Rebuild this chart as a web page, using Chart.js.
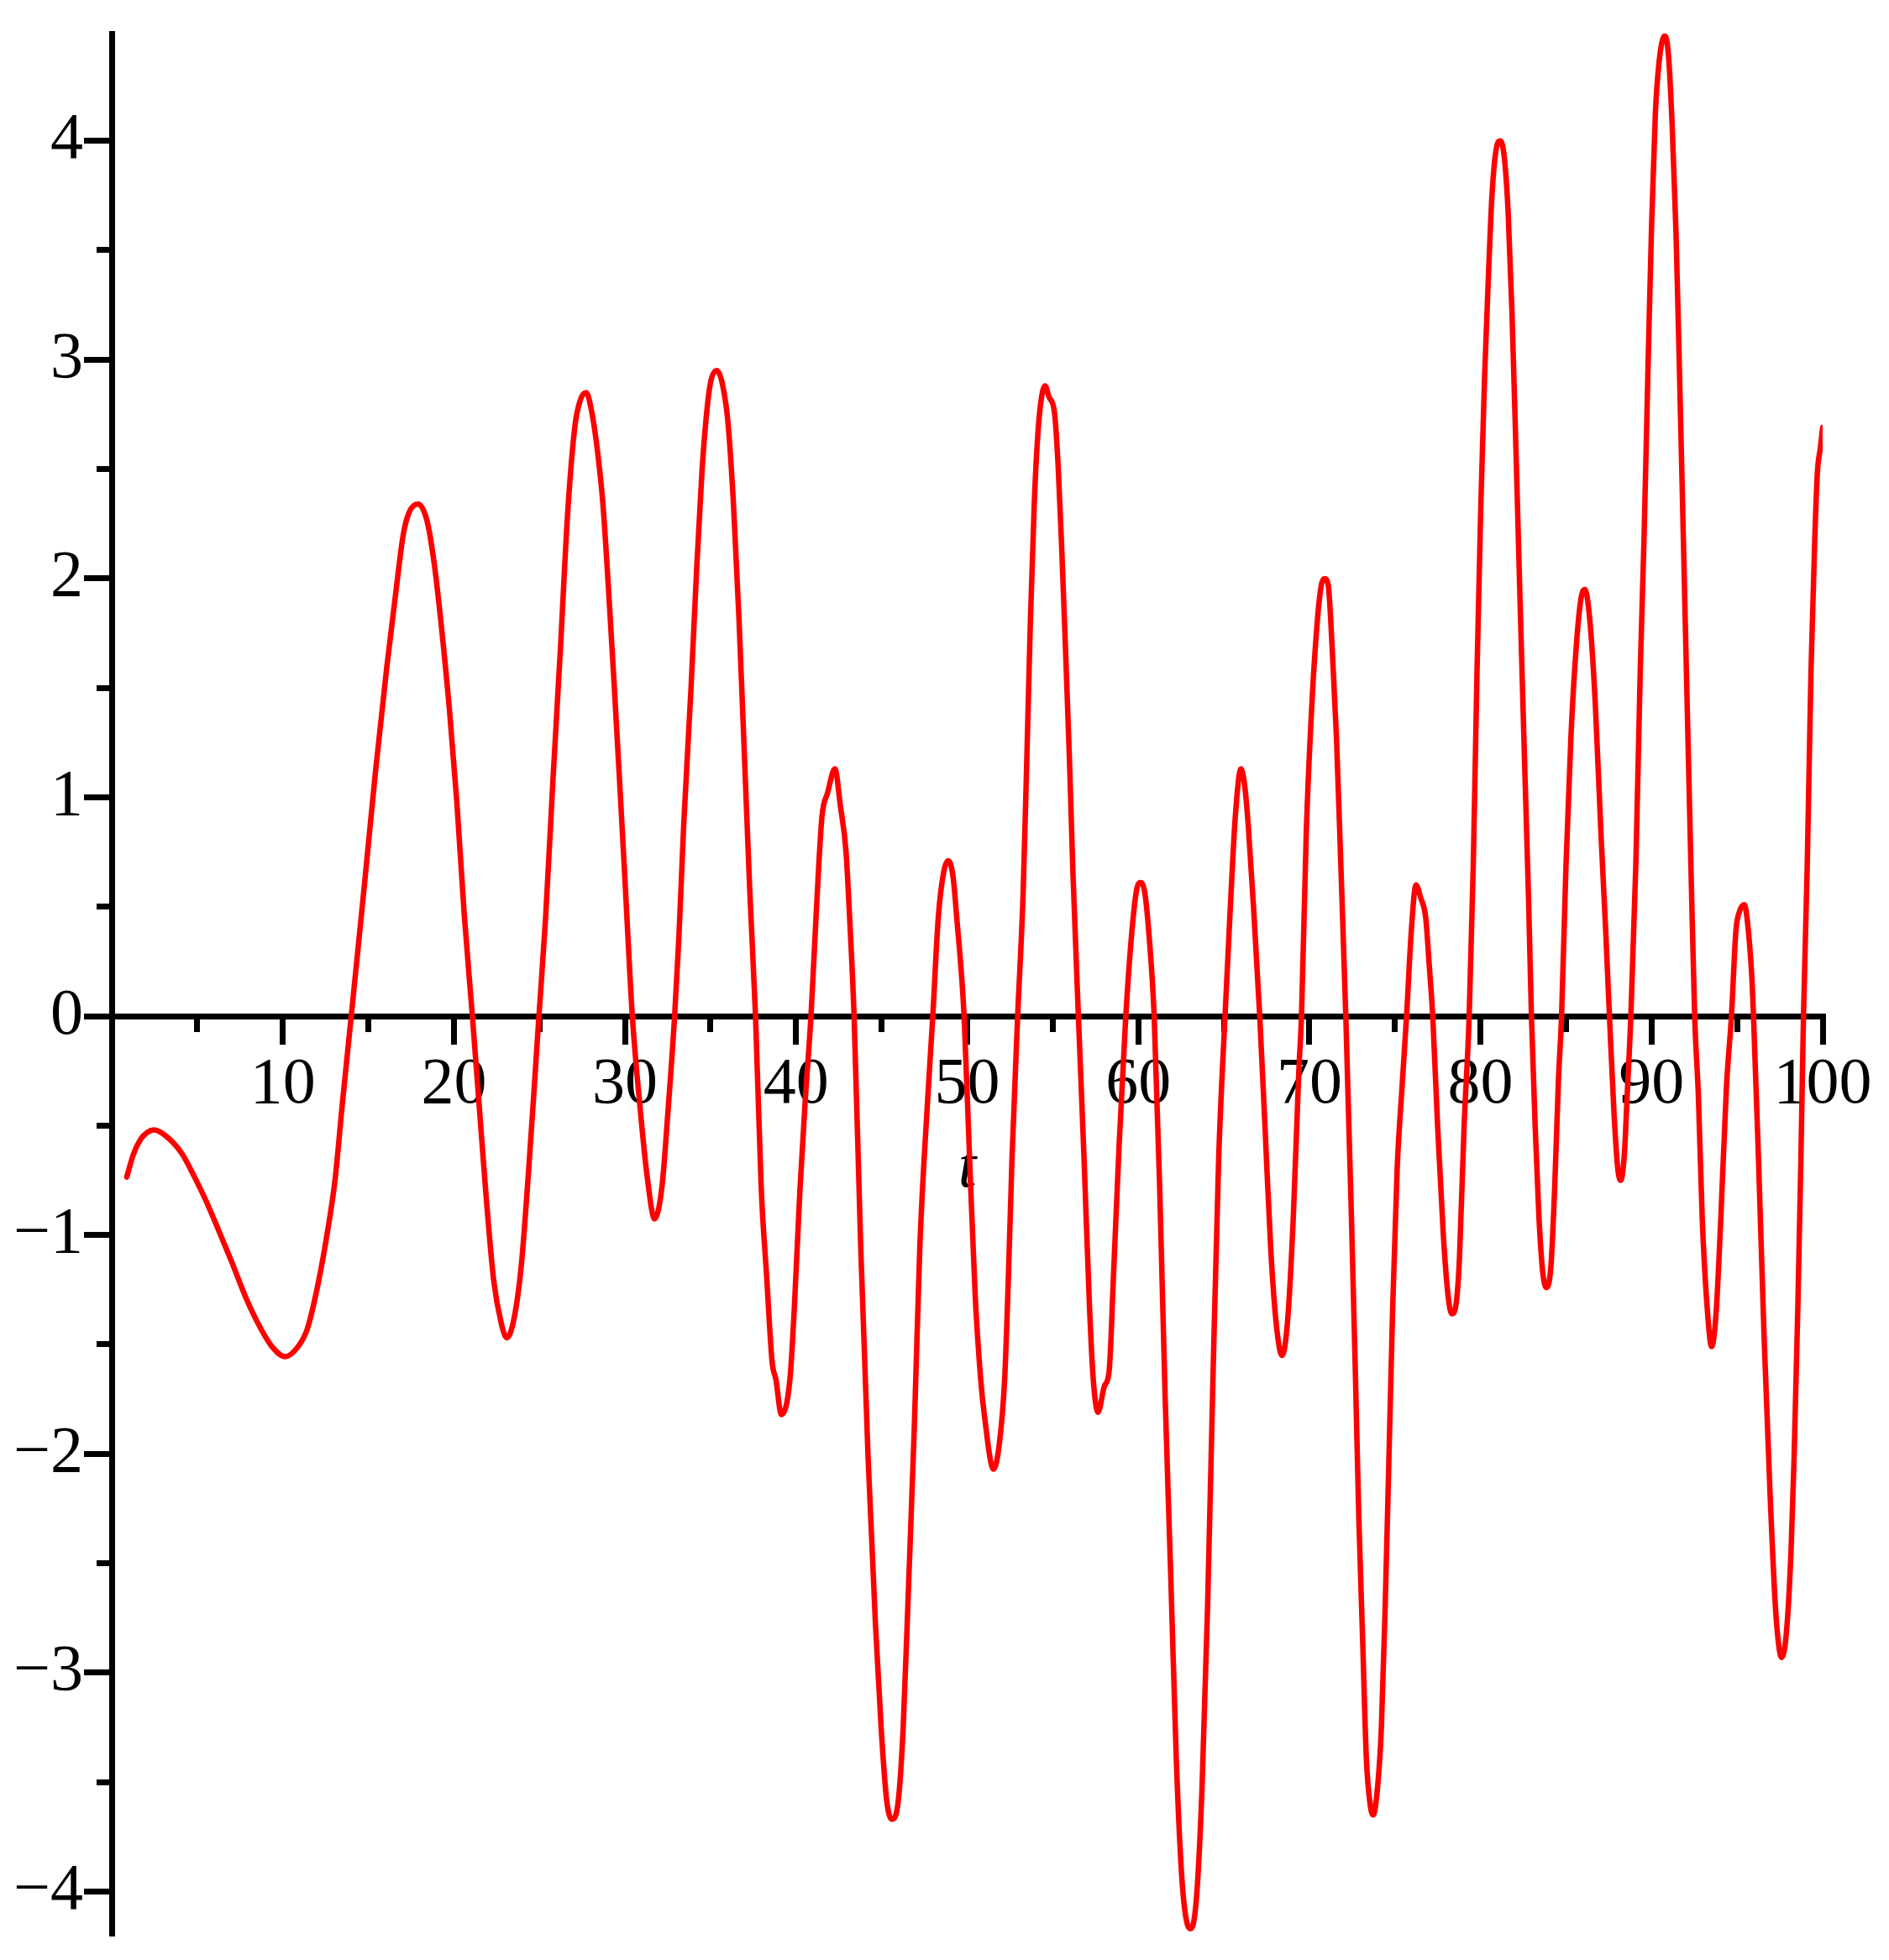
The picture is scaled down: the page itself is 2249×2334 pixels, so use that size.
<!DOCTYPE html>
<html>
<head>
<meta charset="utf-8">
<script src="https://cdn.jsdelivr.net/npm/chart.js@4/dist/chart.umd.min.js"></script>
<style>
html,body{margin:0;padding:0;background:#ffffff;}
#wrap{width:2249px;height:2334px;position:relative;}
canvas{display:block;}
</style>
</head>
<body>
<div id="wrap"><canvas id="c" width="2249" height="2334"></canvas></div>
<script>
// sample times t, grouped by half-wave
const tSamples = [
  0.88,1.27,1.71,2.1,2.46,3.11,4.08,4.84,5.49,6.13,7.0,7.86,8.73,9.37,10.13,10.89,11.43,12.07,12.61,13.05,13.48,14.0,
  14.77,15.42,16.07,16.61,17.04,17.37,17.9,18.44,18.88,19.31,19.74,20.17,20.6,21.08,
  21.47,21.9,22.33,22.76,23.09,23.52,23.95,24.38,24.7,24.97,
  25.36,25.79,26.22,26.65,27.08,27.41,27.73,28.06,28.38,28.71,29.03,29.35,29.68,30.0,30.43,
  30.86,31.3,31.73,32.16,32.48,32.9,
  33.15,33.43,33.86,34.18,34.5,34.83,35.04,35.37,35.69,36.01,36.34,36.66,36.98,37.3,37.63,
  37.96,38.28,38.6,38.82,39.14,39.64,39.9,40.22,40.54,40.87,
  41.19,41.51,41.84,42.27,42.59,42.92,43.13,43.39,
  43.78,44.21,44.64,44.97,45.29,45.61,45.98,46.26,46.58,46.91,47.23,47.66,47.99,
  48.31,48.63,48.89,49.17,49.39,49.82,
  50.14,50.47,50.79,51.0,51.54,51.87,52.19,52.41,52.62,52.95,
  53.27,53.49,53.7,53.92,54.13,54.35,54.56,54.78,55.1,55.32,55.53,55.75,55.97,56.18,56.5,
  56.83,57.15,57.37,57.65,58.02,58.3,58.55,58.88,59.27,
  59.63,59.91,60.13,60.39,60.65,60.93,
  61.25,61.57,61.9,62.22,62.54,62.87,63.08,63.41,63.73,64.05,64.38,64.7,65.07,
  65.35,65.67,66.0,66.21,66.43,66.75,67.1,
  67.41,67.74,68.07,68.4,68.73,69.06,69.39,69.54,
  69.82,70.15,70.48,70.7,70.88,71.1,71.36,71.58,71.84,72.13,
  72.46,72.68,72.89,73.11,73.33,73.55,73.73,73.99,74.21,74.43,74.65,74.87,75.13,75.42,75.68,
  75.96,76.23,76.51,76.8,77.0,77.21,
  77.5,77.83,78.11,78.33,78.6,78.77,79.04,79.34,
  79.58,79.8,80.02,80.24,80.46,80.68,80.94,81.16,81.4,81.62,81.84,82.06,82.32,82.59,82.81,82.98,
  83.2,83.42,83.64,83.86,84.12,84.34,84.56,84.74,
  85.0,85.29,85.61,85.88,86.1,86.38,86.71,87.04,87.32,87.54,
  87.81,88.03,88.2,88.42,88.57,88.79,
  89.08,89.34,89.56,89.78,90.0,90.22,90.44,90.77,90.99,91.21,91.43,91.64,91.86,92.08,92.3,92.52,
  92.74,92.96,93.25,93.51,93.77,94.05,94.38,94.67,
  94.93,95.15,95.42,95.66,95.88,95.96,
  96.25,96.58,96.91,97.24,97.46,97.61,97.89,98.16,98.33,98.55,98.73,98.88,
  99.1,99.32,99.54,99.69,99.87,100
];
// series values, same grouping as tSamples
const ySamples = [
  -0.735,-0.63,-0.56,-0.53,-0.52,-0.544,-0.625,-0.735,-0.84,-0.956,-1.12,-1.29,-1.43,-1.51,-1.556,-1.51,-1.43,-1.22,-0.985,-0.75,-0.40,0,
  0.60,1.12,1.59,1.94,2.2,2.3,2.34,2.26,2.05,1.75,1.40,0.98,0.47,0,
  -0.40,-0.84,-1.21,-1.40,-1.47,-1.38,-1.13,-0.69,-0.32,0,
  0.45,1.08,1.67,2.30,2.70,2.82,2.85,2.76,2.59,2.34,1.96,1.54,1.08,0.62,0,
  -0.40,-0.735,-0.926,-0.78,-0.47,0,
  0.36,0.87,1.50,2.03,2.49,2.80,2.91,2.95,2.89,2.72,2.34,1.82,1.19,0.56,0,
  -0.78,-1.19,-1.58,-1.66,-1.82,-1.66,-1.33,-0.80,-0.38,0,
  0.49,0.91,1.02,1.13,0.96,0.75,0.45,0,
  -1.06,-2.02,-2.78,-3.25,-3.58,-3.67,-3.58,-3.25,-2.59,-1.88,-1.06,-0.42,0,
  0.45,0.66,0.71,0.64,0.45,0,
  -0.65,-1.28,-1.66,-1.82,-2.07,-1.96,-1.66,-1.19,-0.65,0,
  0.56,1.19,1.82,2.34,2.66,2.83,2.88,2.83,2.76,2.51,2.13,1.67,1.19,0.66,0,
  -0.65,-1.33,-1.66,-1.81,-1.69,-1.62,-1.19,-0.59,0,
  0.39,0.58,0.61,0.56,0.35,0,
  -0.78,-1.74,-2.56,-3.39,-3.93,-4.15,-4.17,-4.02,-3.52,-2.70,-1.61,-0.65,0,
  0.45,0.91,1.13,1.06,0.87,0.48,0,
  -0.51,-1.06,-1.41,-1.55,-1.39,-0.92,-0.24,0,
  0.84,1.43,1.82,1.97,2.0,1.97,1.64,1.28,0.69,0,
  -0.92,-1.6,-2.29,-2.84,-3.39,-3.6,-3.65,-3.52,-3.25,-2.7,-2.02,-1.33,-0.70,-0.32,0,
  0.39,0.6,0.54,0.45,0.24,0,
  -0.51,-1.0,-1.28,-1.36,-1.30,-1.11,-0.51,0,
  0.69,1.58,2.33,2.92,3.37,3.76,3.97,4.0,3.92,3.67,3.22,2.63,1.88,1.13,0.54,0,
  -0.51,-0.92,-1.17,-1.24,-1.14,-0.78,-0.29,0,
  0.69,1.28,1.70,1.91,1.95,1.82,1.43,0.84,0.39,0,
  -0.45,-0.70,-0.75,-0.62,-0.37,0,
  0.69,1.58,2.18,2.92,3.61,4.12,4.36,4.48,4.39,4.06,3.58,2.92,2.18,1.43,0.69,0,
  -0.37,-0.92,-1.33,-1.51,-1.36,-0.92,-0.32,0,
  0.39,0.48,0.51,0.39,0.15,0,
  -0.65,-1.47,-2.15,-2.70,-2.89,-2.93,-2.81,-2.43,-2.02,-1.33,-0.65,0,
  0.69,1.58,2.18,2.48,2.60,2.69
];
// tick labels
const xTickLabels = [10,20,30,40,50,60,70,80,90,100];
const yTickLabels = [-4,-3,-2,-1,0,1,2,3,4];
const xAxisTitle = 't';

const n = Math.min(tSamples.length, ySamples.length);
const points = [];
for (let i = 0; i < n; i++) points.push({x: tSamples[i], y: ySamples[i]});

Chart.defaults.font.family = "'Liberation Serif', 'Times New Roman', serif";
Chart.defaults.color = '#000000';

const FONT = {family: "'Liberation Serif', 'Times New Roman', serif", size: 78};
const X_MIN = 0, X_MAX = 100, Y_MIN = -4.19, Y_MAX = 4.49;
const AXIS_W = 7;

function zeroPad(scale) {
  scale.paddingLeft = 0; scale.paddingRight = 0;
  scale.paddingTop = 0; scale.paddingBottom = 0;
}
function axisStyle(tickLen) {
  return {
    grid: {drawOnChartArea: false, drawTicks: true, tickLength: tickLen,
           color: '#000000', lineWidth: AXIS_W, tickColor: '#000000', tickWidth: AXIS_W},
    border: {display: true, color: '#000000', width: AXIS_W}
  };
}

new Chart(document.getElementById('c'), {
  type: 'line',
  data: {
    datasets: [{
      data: points,
      borderColor: '#ff0000',
      borderWidth: 6.5,
      pointRadius: 0,
      fill: false,
      cubicInterpolationMode: 'monotone',
      borderJoinStyle: 'round',
      borderCapStyle: 'round'
    }]
  },
  options: {
    responsive: false,
    animation: false,
    devicePixelRatio: 1,
    layout: {padding: {top: 40, right: 79, bottom: 32, left: 0}},
    plugins: {legend: {display: false}, tooltip: {enabled: false}},
    scales: {
      x: Object.assign({
        type: 'linear', min: X_MIN, max: X_MAX,
        position: {y: 0},
        ticks: {
          stepSize: 10, includeBounds: false, autoSkip: false,
          maxRotation: 0, minRotation: 0, padding: 6,
          font: FONT, color: '#000000',
          callback: (v) => xTickLabels.includes(v) ? String(v) : ''
        },
        title: {display: true, text: xAxisTitle, color: '#000000',
                font: {family: FONT.family, size: 78, style: 'italic'},
                padding: {top: 0, bottom: 0}},
        afterFit: zeroPad
      }, axisStyle(30)),
      xMinor: Object.assign({
        type: 'linear', axis: 'x', min: X_MIN, max: X_MAX,
        position: {y: 0},
        ticks: {stepSize: 5, includeBounds: false, display: false, autoSkip: false},
        afterFit: zeroPad
      }, axisStyle(15)),
      y: Object.assign({
        type: 'linear', min: Y_MIN, max: Y_MAX,
        position: 'left',
        ticks: {
          stepSize: 1, includeBounds: false, autoSkip: false, padding: 1,
          font: FONT, color: '#000000',
          callback: (v) => yTickLabels.includes(v) ? (v < 0 ? '\u2212' + Math.abs(v) : String(v)) : ''
        },
        afterFit: (scale) => { scale.width = 133; zeroPad(scale); }
      }, axisStyle(33)),
      yMinor: Object.assign({
        type: 'linear', axis: 'y', min: Y_MIN, max: Y_MAX,
        position: {x: 0},
        ticks: {stepSize: 0.5, includeBounds: false, display: false, autoSkip: false},
        afterFit: zeroPad
      }, axisStyle(15))
    }
  }
});
</script>
</body>
</html>
